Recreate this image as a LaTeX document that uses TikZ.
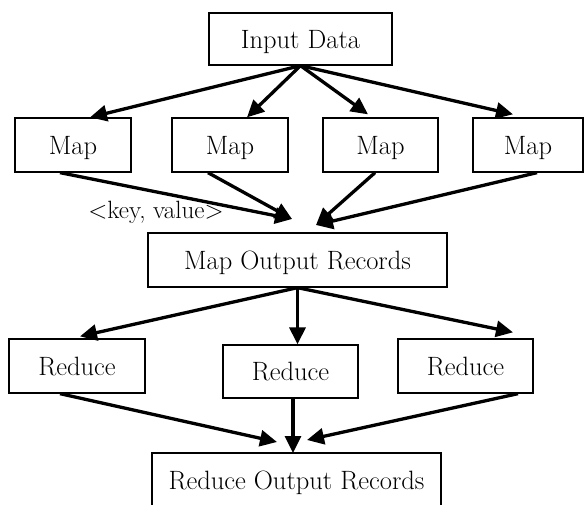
\documentclass[tikz,border=0pt]{standalone}
\usetikzlibrary{arrows.meta}

\begin{document}
\begin{tikzpicture}[x=1pt,y=-1pt,
  box/.style={draw,line width=1.3pt,inner sep=0pt,text depth=0pt,font=\fontsize{26.5}{32}\selectfont},
  arr/.style={line width=3.3pt,-{Triangle[length=17pt,width=16pt]}}]
\useasboundingbox (0,0) rectangle (584,504);
% boxes
\node[box,minimum width=183pt,minimum height=52pt] (in) at (300.5,39) {Input Data};
\node[box,minimum width=116pt,minimum height=54pt] (m1) at (73,145) {Map};
\node[box,minimum width=116pt,minimum height=54pt] (m2) at (230,145) {Map};
\node[box,minimum width=115pt,minimum height=54pt] (m3) at (380.5,145) {Map};
\node[box,minimum width=110pt,minimum height=54pt] (m4) at (528,145) {Map};
\node[box,minimum width=299pt,minimum height=54pt] (mor) at (297.5,260) {Map Output Records};
\node[box,minimum width=136pt,minimum height=54pt] (r1) at (77,366) {Reduce};
\node[box,minimum width=135pt,minimum height=53pt] (r2) at (290.5,371.5) {Reduce};
\node[box,minimum width=135pt,minimum height=54pt] (r3) at (465.5,366) {Reduce};
\node[box,minimum width=289pt,minimum height=54pt] (ror) at (296.5,480) {Reduce Output Records};
\node[anchor=base,font=\fontsize{25}{30}\selectfont] (kv) at (156,218) {\textless key, value\textgreater};
% arrow ends
\coordinate (kvL) at (292,219);
\coordinate (kvR) at (316,225);
\coordinate (rL) at (277,442);
\coordinate (rC) at (293,453);
\coordinate (rR) at (307,440);
% input -> map
\draw[arr] (in.south) -- ([xshift=17pt]m1.north);
\draw[arr] (in.south) -- ([xshift=17pt]m2.north);
\draw[arr] (in.south) -- ([xshift=-12.5pt,yshift=3pt]m3.north);
\draw[arr] (in.south) -- ([xshift=-15pt,yshift=3pt]m4.north);
% map -> records
\draw[arr] ([xshift=-13pt]m1.south) -- (kvL);
\draw[arr] ([xshift=-22pt]m2.south) -- (kvL);
\draw[arr] ([xshift=-5.5pt]m3.south) -- (kvR);
\draw[arr] ([xshift=9pt]m4.south) -- (kvR);
% records -> reduce
\draw[arr] (mor.south) -- ([xshift=3pt,yshift=2pt]r1.north);
\draw[arr] (mor.south) -- (mor.south |- r2.north);
\draw[arr] (mor.south) -- ([xshift=47.5pt,yshift=6pt]r3.north);
% reduce -> output
\draw[arr] ([xshift=-17pt]r1.south) -- (rL);
\draw[arr] (r2.south -| rC) -- (rC);
\draw[arr] ([xshift=52.5pt]r3.south) -- (rR);
\end{tikzpicture}
\end{document}
